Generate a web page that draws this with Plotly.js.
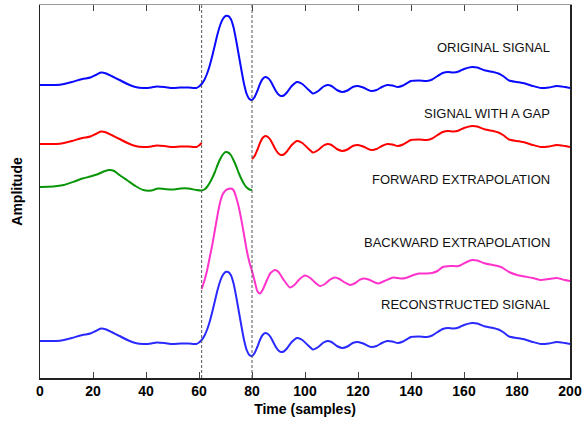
<!DOCTYPE html>
<html>
<head>
<meta charset="utf-8">
<script src="https://cdn.plot.ly/plotly-3.0.1.min.js"></script>
<style>html,body{margin:0;padding:0;background:#fff}#chart{width:582px;height:425px}</style>
</head>
<body>
<div id="chart"></div>
<script>
// ---- data ----
const origT = [0,5,8,12,16,19,21,23,25,27,30,33,36,39,42,44,47,50,53,56,58,59,60,61,62,63,64,65,66,67,68,69,70,71,72,73,74,75,76,77,78,79,80,81,82,83,84,85,86,87,88,89,90,91,92,93,95,97,99,101,103,105,107,108.5,110,112,114,116,118,120,122,125,127,129,131,133,135,137,140,143,146,148,150,152,154,156,158,160,163,165,168,171,173,175,177,180,183,186,189,192,195,198,200];
const origV = [0.1,0.1,0.15,0.4,0.7,0.85,1.1,1.35,1.25,1.0,0.6,0.2,-0.1,-0.2,-0.15,-0.05,-0.1,-0.2,-0.15,-0.15,-0.2,-0.2,-0.05,0.2,0.6,1.2,2.0,3.0,4.1,5.2,6.1,6.7,7.0,7.0,6.7,5.9,4.6,3.1,1.6,0.2,-0.8,-1.3,-1.4,-1.1,-0.5,0.2,0.7,0.9,0.8,0.5,0.0,-0.5,-0.85,-1.0,-0.95,-0.7,0.0,0.4,0.2,-0.3,-0.75,-0.5,-0.05,0.1,0.0,-0.4,-0.6,-0.45,-0.1,0.0,-0.15,-0.5,-0.4,-0.1,0.1,0.05,-0.1,0.05,0.5,0.55,0.5,0.65,1.0,1.3,1.4,1.35,1.45,1.7,1.9,1.85,1.55,1.4,1.25,0.95,0.55,0.4,0.25,0.0,-0.2,-0.15,0.0,-0.1,-0.2];

const gapStart = 61, gapEnd = 80;

const fwdT = [0,5,9,13,16,19,22,24,26,28,30,33,36,39,42,44.5,47,50,53,56,59,61,62,63,64,65,66,67,68,69,70,71,72,73,74,75,76,77,78,79,80];
const fwdV = [0,0.05,0.2,0.55,0.85,1.05,1.3,1.55,1.7,1.6,1.2,0.65,0.1,-0.3,-0.35,-0.15,-0.2,-0.25,-0.15,-0.15,-0.3,-0.35,-0.25,0,0.4,0.9,1.5,2.2,2.8,3.25,3.5,3.45,3.2,2.7,2.1,1.4,0.8,0.3,-0.05,-0.25,-0.3];

const bwdT = [61,62,63,64,65,66,67,68,69,70,71,72,73,74,75,76,77,78,79,80,81,82,83,84,85,86,87,88.7,90,92,94.3,96,98,100,102,104,105.7,107.5,109.5,111.3,113,115,117,119,120.5,122,124,126,127.7,130,133.3,136,138,140.9,143,146,148,150,152,155,158,161,163,165,168,171,174,177,180,183,186,189,192,195,198,200];
const bwdV = [-1.0,-0.2,0.8,2.1,3.4,4.9,6.4,7.7,8.5,8.85,9.0,9.05,8.9,8.2,7.2,5.9,4.4,2.9,1.7,0.8,-0.2,-1.2,-1.45,-1.1,-0.5,0.1,0.6,0.9,0.7,-0.1,-0.85,-0.6,0.0,0.35,0.1,-0.4,-0.7,-0.5,-0.05,0.15,0.0,-0.35,-0.6,-0.4,-0.1,0.05,-0.05,-0.3,-0.45,-0.2,0.15,0.05,0.1,0.4,0.55,0.55,0.6,0.8,1.2,1.3,1.3,1.7,1.9,1.85,1.55,1.4,1.2,0.7,0.4,0.25,0.1,-0.1,0.0,0.1,-0.1,-0.2];

const recT = [0,5,8,12,16,19,21,23,25,27,30,33,36,39,42,44,47,50,53,56,58,59,60,61,62,63,64,65,66,67,68,69,70,71,72,73,74,75,76,77,78,79,80,81,82,83,84,85,86,87,88,89,90,91,92,93,95,97,99,101,103,105,107,108.5,110,112,114,116,118,120,122,125,127,129,131,133,135,137,140,143,146,148,150,152,154,156,158,160,163,165,168,171,173,175,177,180,183,186,189,192,195,198,200];
const recV = [0.1,0.1,0.15,0.4,0.7,0.85,1.1,1.35,1.25,1.0,0.6,0.2,-0.1,-0.2,-0.15,-0.05,-0.1,-0.2,-0.15,-0.15,-0.2,-0.2,-0.05,0.2,0.6,1.2,2.0,3.0,4.1,5.2,6.1,6.7,7.0,7.0,6.7,5.9,4.6,3.1,1.6,0.2,-0.8,-1.3,-1.4,-1.1,-0.5,0.2,0.7,0.9,0.8,0.5,0.0,-0.5,-0.85,-1.0,-0.95,-0.7,0.0,0.4,0.2,-0.3,-0.75,-0.5,-0.05,0.1,0.0,-0.4,-0.6,-0.45,-0.1,0.0,-0.15,-0.5,-0.4,-0.1,0.1,0.05,-0.1,0.05,0.5,0.55,0.5,0.65,1.0,1.3,1.4,1.35,1.45,1.7,1.9,1.85,1.55,1.4,1.25,0.95,0.55,0.4,0.25,0.0,-0.2,-0.15,0.0,-0.1,-0.2];

const labels = ["ORIGINAL SIGNAL","SIGNAL WITH A GAP","FORWARD EXTRAPOLATION","BACKWARD EXTRAPOLATION","RECONSTRUCTED SIGNAL"];
const xTicks = [0,20,40,60,80,100,120,140,160,180,200];

// ---- vertical stacking offsets (display only) ----
const off = {orig:29.2, gap:23.3, fwd:19.1, bwd:9.9, rec:3.6};
const shift = (arr, o) => arr.map(v => v === null ? null : v + o);

const gapV = origT.map((t,i) => (t > gapStart && t < gapEnd) ? null : origV[i]);

const lineStyle = (c) => ({color:c, width:2, shape:'spline', smoothing:0.6});

const FONT = 'Arial, "Liberation Sans", sans-serif';

const traces = [
  {x:origT, y:shift(origV, off.orig), mode:'lines', line:lineStyle('#0a0aff'), name:labels[0]},
  {x:origT, y:shift(gapV, off.gap), mode:'lines', line:lineStyle('#ff0000'), connectgaps:false, name:labels[1]},
  {x:fwdT, y:shift(fwdV, off.fwd), mode:'lines', line:lineStyle('#089608'), name:labels[2]},
  {x:bwdT, y:shift(bwdV, off.bwd), mode:'lines', line:lineStyle('#ff33cc'), name:labels[3]},
  {x:recT, y:shift(recV, off.rec), mode:'lines', line:lineStyle('#2a2aff'), name:labels[4]},
  // invisible helper trace for the top (mirrored) axis
  {x:[0,200], y:[null,null], xaxis:'x2', mode:'lines', hoverinfo:'skip', showlegend:false}
];

const labelY = [0.885, 0.710, 0.531, 0.362, 0.198];
const annotations = labels.map((s,i) => ({
  text:s, xref:'paper', yref:'paper', x:1, xshift:-18, y:labelY[i],
  xanchor:'right', yanchor:'middle', showarrow:false,
  font:{family:FONT, size:13, color:'#111'}
}));

const layout = {
  width:582, height:425,
  margin:{l:40, r:12, t:5, b:47},
  paper_bgcolor:'#fff', plot_bgcolor:'#fff',
  showlegend:false,
  font:{family:FONT, color:'#000'},
  xaxis:{
    range:[0,200], tickvals:xTicks, ticktext:xTicks.map(String),
    ticks:'inside', ticklen:6, tickwidth:1, tickcolor:'#444',
    showline:true, linecolor:'#222', linewidth:1.5, mirror:false,
    showgrid:false, zeroline:false,
    tickfont:{size:14, weight:'bold', family:FONT},
    title:{text:'Time (samples)', font:{size:14, weight:'bold', family:FONT}, standoff:6}
  },
  xaxis2:{
    overlaying:'x', side:'top', matches:'x', range:[0,200], tickvals:xTicks,
    showticklabels:false, ticks:'inside', ticklen:6, tickwidth:1, tickcolor:'#444',
    showline:true, linecolor:'#9a9a9a', linewidth:1.5, showgrid:false, zeroline:false
  },
  yaxis:{
    range:[0,37.3], showticklabels:false, ticks:'',
    showline:true, linecolor:'#222', linewidth:1.5, mirror:true,
    showgrid:false, zeroline:false,
    title:{text:'Amplitude', font:{size:14, weight:'bold', family:FONT}, standoff:12}
  },
  shapes:[gapStart, gapEnd].map(t => ({
    type:'line', xref:'x', yref:'paper', x0:t, x1:t, y0:0, y1:1,
    line:{color:'#555', width:1, dash:'3px,2px'}
  })),
  annotations:annotations
};

Plotly.newPlot('chart', traces, layout, {displayModeBar:false, staticPlot:true});
</script>
</body>
</html>
